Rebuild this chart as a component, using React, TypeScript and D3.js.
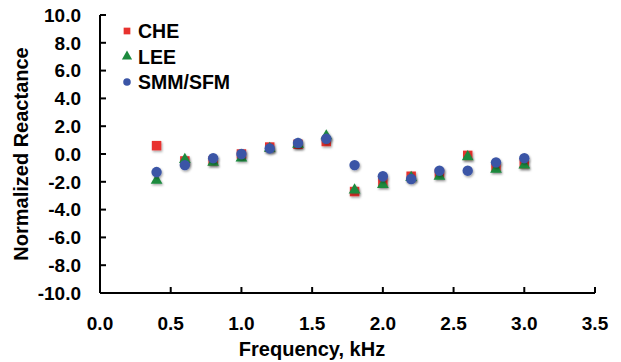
import React from "react";
import * as d3 from "d3";

const freq = [0.4, 0.6, 0.8, 1.0, 1.2, 1.4, 1.6, 1.8, 2.0, 2.2, 2.4, 2.6, 2.8, 3.0];
const che = [0.6, -0.5, -0.5, 0.0, 0.5, 0.7, 0.9, -2.7, -2.0, -1.6, -1.4, -0.1, -0.9, -0.7];
const lee = [-1.9, -0.4, -0.6, -0.3, 0.4, 0.7, 1.3, -2.6, -2.2, -1.7, -1.6, -0.2, -1.1, -0.8];
const smm = [-1.3, -0.8, -0.3, 0.0, 0.4, 0.8, 1.1, -0.8, -1.6, -1.8, -1.2, -1.2, -0.6, -0.3];
const xTicks = [0, 0.5, 1.0, 1.5, 2.0, 2.5, 3.0, 3.5];
const yTicks = [-10, -8, -6, -4, -2, 0, 2, 4, 6, 8, 10];

const W = 621;
const H = 362;
const x = d3.scaleLinear().domain([0, 3.5]).range([100, 595]);
const y = d3.scaleLinear().domain([-10, 10]).range([293, 15]);

const RED = "#e8322e";
const GREEN = "#1d8a3e";
const BLUE = "#3b55a6";
const font = "Liberation Sans, Arial, sans-serif";

// plain hyphen instead of d3's unicode minus, like the original
const fmt = d3.formatLocale({ decimal: ".", thousands: ",", grouping: [3], currency: ["", ""], minus: "-" }).format(".1f");

const tri = d3.symbol().type(d3.symbolTriangle).size(60)();
const sq = d3.symbol().type(d3.symbolSquare).size(90)();
const circ = d3.symbol().type(d3.symbolCircle).size(85)();

export default function App() {
  const series = [
    { name: "CHE", vals: che, color: RED, path: sq },
    { name: "LEE", vals: lee, color: GREEN, path: tri },
    { name: "SMM/SFM", vals: smm, color: BLUE, path: circ },
  ];
  return (
    <svg width={W} height={H} style={{ position: "absolute", left: 0, top: 0 }} fontFamily={font}>
      <defs>
        <filter id="sh" x="-50%" y="-50%" width="200%" height="200%">
          <feDropShadow dx="1" dy="1.5" stdDeviation="1" floodColor="#000" floodOpacity="0.35" />
        </filter>
      </defs>
      <rect width={W} height={H} fill="#fff" />
      {/* axes */}
      <g stroke="#000" strokeWidth={2} fill="none">
        <line x1={x(0)} x2={x(0)} y1={y(10)} y2={y(-10)} />
        <line x1={x(0)} x2={x(3.5)} y1={y(-10)} y2={y(-10)} />
        {yTicks.map(t => (
          <line key={"yt" + t} x1={x(0)} x2={x(0) + 6} y1={y(t)} y2={y(t)} />
        ))}
        {xTicks.map(t => (
          <line key={"xt" + t} x1={x(t)} x2={x(t)} y1={y(-10)} y2={y(-10) - 6} />
        ))}
      </g>
      <g fontWeight="bold" fontSize={19} fill="#000">
        {yTicks.map(t => (
          <text key={"yl" + t} x={x(0) - 19} y={y(t)} dy="0.36em" textAnchor="end">
            {fmt(t)}
          </text>
        ))}
        {xTicks.map(t => (
          <text key={"xl" + t} x={x(t)} y={y(-10) + 37} textAnchor="middle">
            {fmt(t)}
          </text>
        ))}
      </g>
      <text x={312} y={356} textAnchor="middle" fontWeight="bold" fontSize={20}>
        Frequency, kHz
      </text>
      <text
        transform={`translate(28, ${y(0)}) rotate(-90)`}
        textAnchor="middle"
        fontWeight="bold"
        fontSize={20}
      >
        Normalized Reactance
      </text>
      {/* data */}
      {series.map(s => (
        <g key={s.name} fill={s.color} filter="url(#sh)">
          {freq.map((f, i) => (
            <path key={i} d={s.path} transform={`translate(${x(f)}, ${y(s.vals[i])})`} />
          ))}
        </g>
      ))}
      {/* legend */}
      {series.map((s, i) => (
        <g key={"lg" + s.name} transform={`translate(127, ${31 + i * 25.5})`}>
          <path d={d3.symbol().type([d3.symbolSquare, d3.symbolTriangle, d3.symbolCircle][i]).size(45)()} fill={s.color} />
          <text x={11} dy="0.36em" fontWeight="bold" fontSize={19.5}>
            {s.name}
          </text>
        </g>
      ))}
    </svg>
  );
}
